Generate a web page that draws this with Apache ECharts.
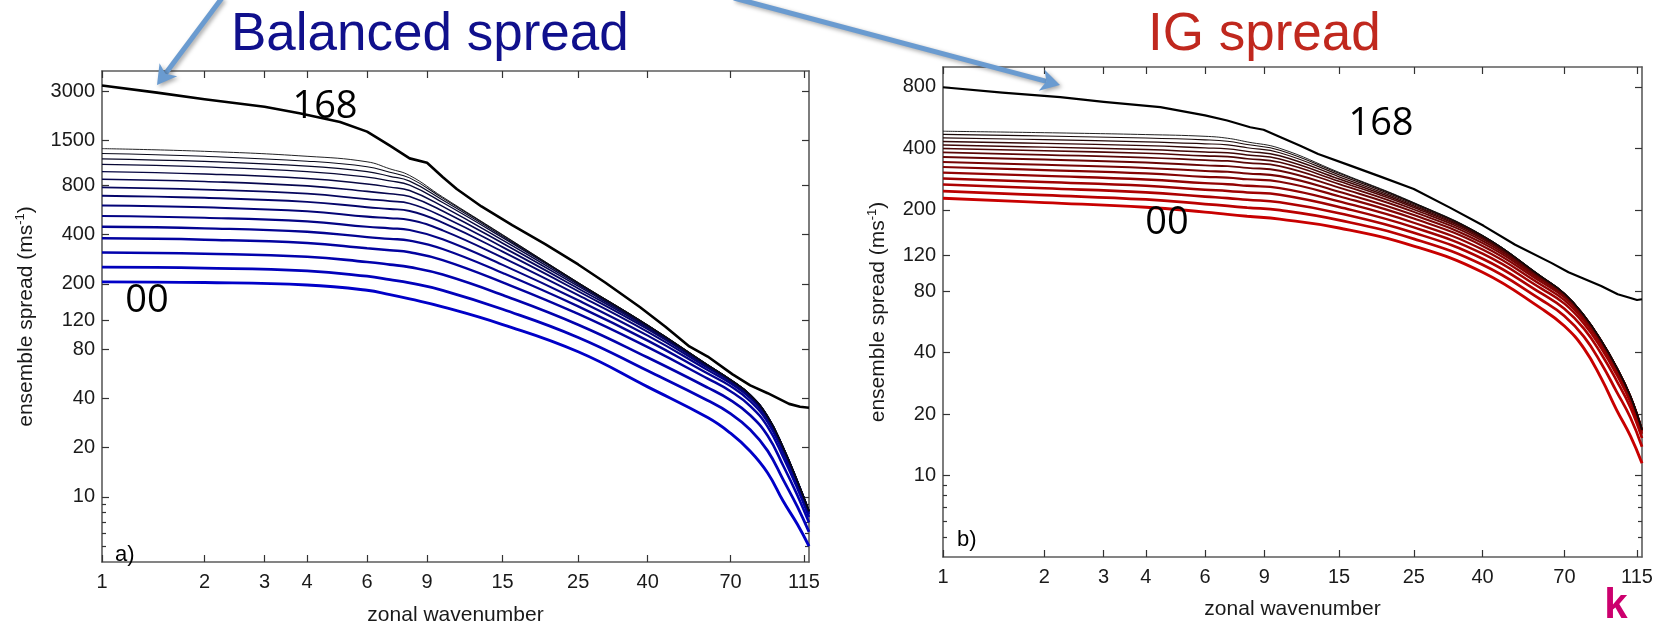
<!DOCTYPE html>
<html>
<head>
<meta charset="utf-8">
<script src="https://cdn.jsdelivr.net/npm/echarts@6/dist/echarts.min.js"></script>
<style>
  html, body { margin: 0; padding: 0; background: #ffffff; }
  #chart { width: 1663px; height: 631px; }
</style>
</head>
<body>
<div id="chart"></div>
<script>
// Zonal wavenumbers at which the ensemble-spread curves are sampled
const wavenumbers = [1, 2, 4, 6, 7, 8, 10, 15, 25, 40, 60, 70, 80, 90, 100, 110, 119];

// Balanced spread, one row per curve, from the 00 curve (bottom) upward
const balancedSpread = [
  [206, 204, 197, 183, 172, 162, 145, 113, 77, 47, 30.5, 24.5, 19, 14, 9.4, 6.8, 5.0],
  [253, 249.7, 240.3, 223, 212.6, 203, 182.8, 140, 94.2, 58.9, 38.8, 32.3, 25.7, 19.1, 12.7, 8.71, 6.11],
  [311, 306, 293.4, 272.3, 262.6, 253.4, 228.2, 171.1, 112.7, 71, 46.5, 39.0, 31.5, 23.6, 15.5, 10.24, 6.97],
  [380, 372.9, 356, 330.3, 321.1, 312.3, 279.8, 204.5, 131.2, 82.1, 52.8, 44.2, 35.9, 26.8, 17.5, 11.28, 7.54],
  [447, 437.4, 416.6, 386.3, 377.3, 368.2, 326.9, 233.4, 145.9, 90.1, 56.7, 47.5, 38.4, 28.6, 18.6, 11.83, 7.84],
  [520, 507.6, 482, 447, 437.4, 427.3, 374.9, 261.5, 159, 96.6, 59.5, 49.4, 40, 29.7, 19.3, 12.15, 8.01],
  [603, 587.5, 556, 515.5, 504.6, 492.2, 425.1, 289.3, 170.8, 101.8, 61.4, 50.6, 41, 30.4, 19.6, 12.34, 8.11],
  [692, 672, 634.8, 588.3, 574.1, 558.4, 474, 314.7, 180.5, 105.7, 62.6, 51.3, 41.5, 30.7, 19.85, 12.43, 8.16],
  [778, 755, 711.5, 659.2, 640.7, 620, 516.8, 335.7, 187.8, 108.1, 63.3, 51.6, 41.8, 30.9, 19.93, 12.47, 8.18],
  [873, 845, 794.6, 736, 710.6, 683.3, 558.1, 354.6, 193.8, 109.9, 63.7, 51.8, 42, 31, 20, 12.5, 8.2],
  [971, 939, 881, 815.6, 781, 744.6, 595.5, 370.6, 198.2, 111, 63.9, 52, 42, 31, 20, 12.5, 8.2],
  [1075, 1037, 971.4, 899.4, 851.6, 803.9, 628.6, 383.6, 201.2, 111.6, 64, 52, 42, 31, 20, 12.5, 8.2],
  [1163, 1121, 1048, 970.3, 908.6, 849.2, 651.6, 391.7, 202.8, 111.9, 64, 52, 42, 31, 20, 12.5, 8.2],
  [1252, 1204, 1125, 1041, 962.1, 889, 669.3, 397.3, 203.7, 112, 64, 52, 42, 31, 20, 12.5, 8.2],
  [1342, 1292, 1205, 1115, 1010, 920, 680, 400, 204, 112, 64, 52, 42, 31, 20, 12.5, 8.2]
];

// Balanced spread at 168 h: [wavenumber, spread]
const balanced168 = [
  [1, 3260], [1.45, 2950], [2, 2690], [3, 2420], [3.8, 2210], [5, 1950], [6, 1705], [6.5, 1540],
  [7, 1400], [8, 1170], [9, 1100], [10, 900], [11, 760], [13, 595], [16, 457], [20, 350],
  [25, 263], [30, 204], [38, 144], [45, 110], [53, 83], [60, 72], [71, 56], [80, 48],
  [90, 43], [104, 37], [112, 35.5], [119, 35]
];

// IG spread, one row per curve, from the 00 curve (bottom) upward
const igSpread = [
  [228, 217, 206, 195, 190, 186, 180, 163, 133, 99, 65.5, 54, 42, 30, 21, 15.6, 11.5],
  [247, 236, 224.7, 213.5, 209, 205, 199.1, 178.1, 144.2, 107.6, 72.2, 60.5, 47.9, 35.5, 25.8, 19.2, 13.85],
  [266, 254.9, 243.5, 232.1, 228.2, 224.1, 218, 192.6, 154.5, 115.3, 77.7, 65.6, 52.4, 39.5, 29.2, 21.5, 15.26],
  [285, 273.9, 262.4, 250.9, 247.4, 243.2, 236.8, 206.5, 164.1, 122, 82.1, 69.5, 55.5, 42.1, 31.3, 22.9, 16.04],
  [304, 293.1, 281.5, 270.1, 266.9, 262.3, 255.4, 219.8, 172.9, 127.9, 85.5, 72.3, 57.6, 43.8, 32.5, 23.7, 16.45],
  [324, 313.1, 301.5, 290.2, 287.3, 282.3, 274.5, 233.1, 181.3, 133.2, 88.3, 74.5, 59, 44.8, 33.3, 24.1, 16.65],
  [343, 332.3, 320.8, 309.6, 306.9, 301.3, 292.4, 245.1, 188.5, 137.4, 90.2, 75.9, 59.9, 45.4, 33.7, 24.3, 16.74],
  [363, 352.5, 341.2, 330, 327.3, 321, 310.6, 256.8, 195.3, 141.1, 91.7, 76.8, 60.4, 45.7, 33.9, 24.45, 16.8],
  [382, 371.8, 360.6, 349.7, 346.8, 339.6, 327.3, 267.2, 200.8, 143.9, 92.7, 77.4, 60.8, 45.9, 34, 24.5, 16.8],
  [399, 389.1, 378.1, 367.4, 364.2, 355.9, 341.8, 275.8, 205.2, 145.9, 93.2, 77.7, 60.9, 46, 34, 24.5, 16.8],
  [415, 405.4, 394.5, 384, 380.4, 371, 354.7, 283.1, 208.7, 147.4, 93.6, 77.9, 61, 46, 34, 24.5, 16.8],
  [432, 422.7, 412.1, 401.9, 397.6, 386.7, 367.8, 290.2, 211.8, 148.6, 93.8, 78, 61, 46, 34, 24.5, 16.8],
  [450, 441.1, 430.5, 420.9, 415.4, 402.6, 380.5, 296.7, 214.4, 149.4, 94, 78, 61, 46, 34, 24.5, 16.8],
  [468, 459.5, 449.3, 439.9, 432.8, 417.6, 391.9, 301.9, 216.2, 149.9, 94, 78, 61, 46, 34, 24.5, 16.8],
  [485, 477, 467, 458, 448, 430, 400, 305, 217, 150, 94, 78, 61, 46, 34, 24.5, 16.8]
];

// IG spread at 168 h: [wavenumber, spread]
const ig168 = [
  [1, 796], [1.5, 750], [2.23, 712], [3, 675], [4.42, 636], [6, 580], [6.98, 547], [8.17, 507],
  [8.95, 493], [10.06, 453], [11.5, 412], [13, 375], [16.2, 329], [20, 290], [25, 253], [32, 205],
  [40.3, 167], [50, 135], [64, 110], [72, 99], [80, 92], [90, 84.8], [100.8, 77.2], [110, 74],
  [115, 72.4], [119, 73]
];

// Tick values
const xTicks = [1, 2, 3, 4, 6, 9, 15, 25, 40, 70, 115];
const yTicksBalanced = [10, 20, 40, 80, 120, 200, 400, 800, 1500, 3000];
const yTicksIG = [10, 20, 40, 80, 120, 200, 400, 800];
const yMinorTicks = [5, 6, 7, 8, 9];

const FONT = '"Liberation Sans", Arial, Helvetica, sans-serif';
const AXIS_GRAY = '#5c5c5c';
const round = v => String(Math.round(v));

function xAxes(gridIndex, nameGap) {
  const base = {
    type: 'log', logBase: 10, gridIndex, min: 1, max: 119,
    splitLine: { show: false }, minorTick: { show: false }, minorSplitLine: { show: false },
    axisLine: { show: true, onZero: false, lineStyle: { color: AXIS_GRAY, width: 1.6 } },
    axisTick: { show: true, inside: true, length: 7, customValues: xTicks, lineStyle: { color: '#333', width: 1.2 } }
  };
  return [
    Object.assign({}, base, {
      position: 'bottom',
      axisLabel: { show: true, customValues: xTicks, formatter: round, fontSize: 20, color: '#1a1a1a', fontFamily: FONT, margin: 10 },
      name: 'zonal wavenumber', nameLocation: 'middle', nameGap,
      nameTextStyle: { fontSize: 21, color: '#1a1a1a', fontFamily: FONT }
    }),
    Object.assign({}, base, { position: 'top', axisLabel: { show: false } })
  ];
}

function yAxes(gridIndex, yMax, ticks, nameGap) {
  const base = {
    type: 'log', logBase: 10, gridIndex, min: 4, max: yMax,
    splitLine: { show: false }, minorTick: { show: false }, minorSplitLine: { show: false },
    axisLine: { show: true, onZero: false, lineStyle: { color: AXIS_GRAY, width: 1.6 } }
  };
  const major = { show: true, inside: true, length: 7, customValues: ticks, lineStyle: { color: '#333', width: 1.2 } };
  const minor = { show: true, inside: true, length: 4, customValues: yMinorTicks, lineStyle: { color: '#333', width: 1.2 } };
  return [
    Object.assign({}, base, {
      position: 'left', axisTick: major,
      axisLabel: { show: true, customValues: ticks, formatter: round, fontSize: 20, color: '#1a1a1a', fontFamily: FONT, margin: 7 },
      name: 'ensemble spread (ms{sup|-1})', nameLocation: 'middle', nameGap, nameRotate: 90,
      nameTextStyle: {
        fontSize: 21, color: '#1a1a1a', fontFamily: FONT,
        rich: { sup: { fontSize: 13, color: '#1a1a1a', fontFamily: FONT, verticalAlign: 'top', lineHeight: 24 } }
      }
    }),
    Object.assign({}, base, { position: 'right', axisTick: major, axisLabel: { show: false } }),
    Object.assign({}, base, { position: 'left', axisLine: { show: false }, axisTick: minor, axisLabel: { show: false } }),
    Object.assign({}, base, { position: 'right', axisLine: { show: false }, axisTick: minor, axisLabel: { show: false } })
  ];
}

// Curves shade from the panel colour (00) to black (latest), getting thinner
function bundleSeries(rows, xAxisIndex, yAxisIndex, rgbOf, prefix) {
  const n = rows.length - 1;
  return rows.map((vals, i) => {
    const t = i / n;
    return {
      type: 'line', name: prefix + ' ' + i, xAxisIndex, yAxisIndex,
      data: wavenumbers.map((w, k) => [w, vals[k]]),
      showSymbol: false, smooth: 0.45, silent: true, z: 2 + i,
      lineStyle: { color: rgbOf(t), width: 2.9 * (1 - t) + 0.9 * t }
    };
  });
}

function blackSeries(data, xAxisIndex, yAxisIndex, width, name) {
  return {
    type: 'line', name, xAxisIndex, yAxisIndex, data,
    showSymbol: false, smooth: false, silent: true, z: 30,
    lineStyle: { color: '#000000', width, join: 'round' }
  };
}

const blueOf = t => 'rgb(' + Math.round(10 * t) + ',' + Math.round(10 * t) + ',' + Math.round(200 * (1 - t) + 12 * t) + ')';
const redOf = t => 'rgb(' + Math.round(200 * (1 - t) + 10 * t) + ',' + Math.round(10 * t) + ',' + Math.round(10 * t) + ')';

// Arrow built from a shaft and a notched head
function arrow(x0, y0, tx, ty) {
  const dx = tx - x0, dy = ty - y0, len = Math.hypot(dx, dy);
  const ux = dx / len, uy = dy / len, px = -uy, py = ux;
  const hl = 19, hw = 11;
  const bx = tx - hl * ux, by = ty - hl * uy;
  const nx = bx + 5 * ux, ny = by + 5 * uy;
  const shadow = { shadowBlur: 4, shadowColor: 'rgba(0,0,0,0.35)', shadowOffsetX: 2, shadowOffsetY: 2 };
  return [
    { type: 'line', z: 100, silent: true,
      shape: { x1: x0, y1: y0, x2: nx, y2: ny },
      style: Object.assign({ stroke: '#6a9bd0', lineWidth: 5 }, shadow) },
    { type: 'polygon', z: 101, silent: true,
      shape: { points: [[tx, ty], [bx + hw * px, by + hw * py], [nx, ny], [bx - hw * px, by - hw * py]] },
      style: Object.assign({ fill: '#6a9bd0' }, shadow) }
  ];
}

function label(text, x, y, font, fill, align) {
  return { type: 'text', x, y, z: 110, silent: true,
    style: { text, font, fill, align: align || 'center', verticalAlign: 'middle' } };
}

const BIG = '38px "Open Sans", "Liberation Sans", sans-serif';
const PANEL = '22px ' + FONT;

const option = {
  animation: false,
  backgroundColor: '#ffffff',
  grid: [
    { left: 102, top: 71, width: 707, height: 497 },
    { left: 943, top: 67, width: 699, height: 490 }
  ],
  xAxis: [].concat(xAxes(0, 43), xAxes(1, 42)),
  yAxis: [].concat(yAxes(0, 4000, yTicksBalanced, 64), yAxes(1, 1000, yTicksIG, 53)),
  series: [].concat(
    bundleSeries(balancedSpread, 0, 0, blueOf, 'Balanced'),
    [blackSeries(balanced168, 0, 0, 2.6, 'Balanced 168')],
    bundleSeries(igSpread, 2, 4, redOf, 'IG'),
    [blackSeries(ig168, 2, 4, 2.2, 'IG 168')]
  ),
  graphic: [].concat(
    [
      label('Balanced spread', 231, 35, '53px ' + FONT, '#10108c', 'left'),
      label('IG spread', 1148, 35, '53px ' + FONT, '#c0281e', 'left'),
      label('168', 325, 107, BIG, '#000000'),
      label('00', 147, 301, BIG, '#000000'),
      label('168', 1381, 124, BIG, '#000000'),
      label('00', 1167, 223, BIG, '#000000'),
      label('a)', 115, 555, PANEL, '#000000', 'left'),
      label('b)', 957, 540, PANEL, '#000000', 'left'),
      label('k', 1616, 606, 'bold 42px ' + FONT, '#cc006e')
    ],
    arrow(222, -2, 157, 85),
    arrow(734, -2, 1060, 85)
  )
};

const chart = echarts.init(document.getElementById('chart'), null, { renderer: 'canvas' });
chart.setOption(option);
</script>
</body>
</html>
